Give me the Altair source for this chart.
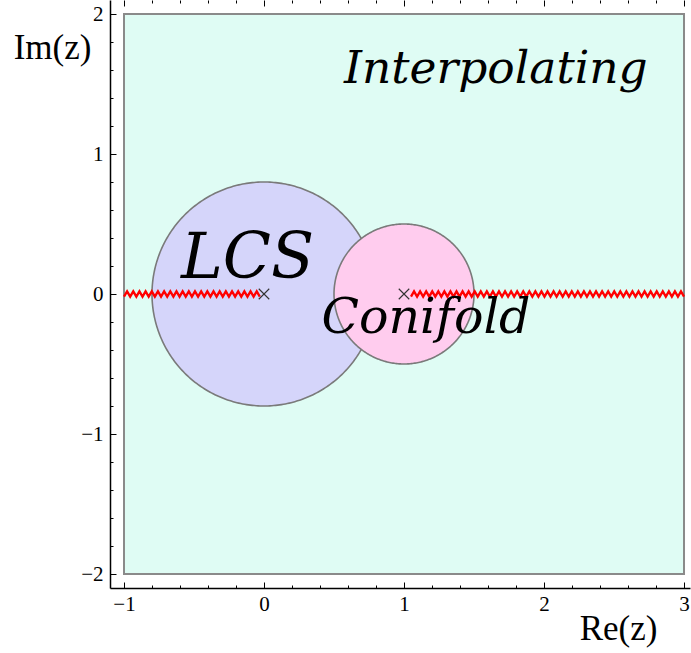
import altair as alt
import numpy as np
import pandas as pd

# ---------------- data ----------------
# plot ranges (data units)
x_domain = [-1.1, 3.0428]
y_domain = [-2.1, 2.1]

# interpolating region (rectangle)
region_x = [-1.0, 3.0]
region_y = [-2.0, 2.0]

# disks: LCS and Conifold
disk_names = ["LCS", "Conifold"]
disk_cx = [0.0, 1.0]
disk_cy = [0.0, 0.0]
disk_r = [0.8, 0.5]

# branch cuts along the real axis
cut_start = [-1.0, 1.05]
cut_end = [-0.03, 3.0]
cut_y = [0.0, 0.0]

# singular points
sing_x = [0.0, 1.0]
sing_y = [0.0, 0.0]

# region labels
label_text = ["Interpolating", "LCS", "Conifold"]
label_x = [1.656, -0.118, 1.157]
label_y = [1.51, 0.114, -0.279]

# tick values
x_ticks = [-1.0, -0.8, -0.6, -0.4, -0.2, 0.0, 0.2, 0.4, 0.6, 0.8, 1.0,
           1.2, 1.4, 1.6, 1.8, 2.0, 2.2, 2.4, 2.6, 2.8, 3.0]
y_ticks = [-2.0, -1.8, -1.6, -1.4, -1.2, -1.0, -0.8, -0.6, -0.4, -0.2, 0.0,
           0.2, 0.4, 0.6, 0.8, 1.0, 1.2, 1.4, 1.6, 1.8, 2.0]

# ---------------- styling ----------------
W, H = 580, 588
MINT = "#DFFCF4"
LAVENDER = "#D5D5FA"
PINK = "#FFCCEE"
OUTLINE = "#7a7a7a"
LABEL_SIZES = [45.5, 63, 49]

xs = alt.Scale(domain=x_domain, nice=False, zero=False)
ys = alt.Scale(domain=y_domain, nice=False, zero=False)

major = "abs(datum.value - round(datum.value)) < 0.001"
tick_dash = {"condition": {"test": major, "value": [6, 0]}, "value": [3, 30]}

axis_x_main = alt.Axis(
    orient="top", offset=-H, values=x_ticks, grid=False,
    domain=True, domainColor="black", domainWidth=1.5,
    ticks=True, tickColor="black", tickWidth=1, tickSize=6, tickDash=tick_dash,
    labelExpr=f"{major} ? format(datum.value, 'd') : ''",
    labelBaseline="top", labelPadding=-11, labelFont="Liberation Serif",
    labelFontSize=21, labelColor="black", labelFlush=False, labelOverlap=False,
    title="Re(z)", titleX=508, titleY=40, titleAngle=0, titleAlign="center",
    titleBaseline="middle", titleFont="Liberation Serif", titleFontSize=35,
    titleFontWeight="normal", titleColor="black", zindex=1,
)
axis_y_main = alt.Axis(
    orient="right", offset=-W, values=y_ticks, grid=False,
    domain=True, domainColor="black", domainWidth=1.5,
    ticks=True, tickColor="black", tickWidth=1, tickSize=6, tickDash=tick_dash,
    labelExpr=f"{major} ? format(datum.value, 'd') : ''",
    labelAlign="right", labelBaseline="middle", labelPadding=-13,
    labelFont="Liberation Serif", labelFontSize=21, labelColor="black",
    labelFlush=False, labelOverlap=False,
    title="Im(z)", titleX=-58, titleY=47, titleAngle=0, titleAlign="center",
    titleBaseline="middle", titleFont="Liberation Serif", titleFontSize=35,
    titleFontWeight="normal", titleColor="black", zindex=1,
)
axis_x_top = alt.Axis(
    orient="bottom", offset=-H, values=x_ticks, grid=False, domain=False,
    labels=False, ticks=True, tickColor="black", tickWidth=1, tickSize=6,
    tickDash=tick_dash, title=None, zindex=1,
)

# ---------------- geometry tables ----------------
rect_df = pd.DataFrame({"x0": [region_x[0]], "x1": [region_x[1]],
                        "y0": [region_y[0]], "y1": [region_y[1]]})


def disk_fill(cx, cy, r):
    t = np.linspace(0, np.pi, 181)
    return pd.DataFrame({"x": cx + r * np.cos(t), "ylo": cy - r * np.sin(t),
                         "yhi": cy + r * np.sin(t)})


def disk_outline(cx, cy, r):
    t = np.linspace(0, 2 * np.pi, 361)
    return pd.DataFrame({"x": cx + r * np.cos(t), "y": cy + r * np.sin(t),
                         "k": np.arange(len(t))})


def zigzag(x0, x1, y0, seg, teeth_per_unit=23, amp=0.019):
    n = max(2, int(round((x1 - x0) * teeth_per_unit)) * 2)
    xx = np.linspace(x0, x1, n + 1)
    sign = np.where(np.arange(n + 1) % 2 == 0, -1.0, 1.0)
    return pd.DataFrame({"x": xx, "y": y0 + amp * sign, "k": np.arange(n + 1),
                         "seg": seg})


cut_df = pd.concat([zigzag(a, b, c, i) for i, (a, b, c)
                    in enumerate(zip(cut_start, cut_end, cut_y))])
sing_df = pd.DataFrame({"x": sing_x, "y": sing_y})

# ---------------- layers ----------------
rect = alt.Chart(rect_df).mark_rect(
    fill=MINT, stroke="#8a8a8a", strokeWidth=2
).encode(
    x=alt.X("x0:Q", scale=xs, axis=axis_x_main), x2="x1:Q",
    y=alt.Y("y0:Q", scale=ys, axis=axis_y_main), y2="y1:Q",
)

layers = [rect]
fills = [LAVENDER, PINK]
for i in range(len(disk_names)):
    fd = disk_fill(disk_cx[i], disk_cy[i], disk_r[i])
    od = disk_outline(disk_cx[i], disk_cy[i], disk_r[i])
    ax_x = axis_x_top if i == 0 else None
    area = alt.Chart(fd).mark_area(color=fills[i], opacity=1).encode(
        x=alt.X("x:Q", scale=xs, axis=ax_x),
        y=alt.Y("ylo:Q", scale=ys, axis=None), y2="yhi:Q",
    )
    line = alt.Chart(od).mark_line(color=OUTLINE, strokeWidth=1.6).encode(
        x=alt.X("x:Q", scale=xs, axis=None),
        y=alt.Y("y:Q", scale=ys, axis=None),
        order="k:Q",
    )
    layers += [area, line]

cuts = alt.Chart(cut_df).mark_line(color="#ff0000", strokeWidth=2.3).encode(
    x=alt.X("x:Q", scale=xs, axis=None),
    y=alt.Y("y:Q", scale=ys, axis=None),
    detail="seg:N", order="k:Q",
)
layers.append(cuts)

crosses = alt.Chart(sing_df).mark_point(
    shape="M-1,-1L1,1M-1,1L1,-1", size=110, color="#333333",
    strokeWidth=1.1, filled=False, opacity=1,
).encode(
    x=alt.X("x:Q", scale=xs, axis=None),
    y=alt.Y("y:Q", scale=ys, axis=None),
)
layers.append(crosses)

for i, txt in enumerate(label_text):
    tdf = pd.DataFrame({"x": [label_x[i]], "y": [label_y[i]], "t": [txt]})
    layers.append(
        alt.Chart(tdf).mark_text(
            font="DejaVu Serif", fontStyle="italic", fontSize=LABEL_SIZES[i],
            align="center", baseline="alphabetic", color="black",
        ).encode(
            x=alt.X("x:Q", scale=xs, axis=None),
            y=alt.Y("y:Q", scale=ys, axis=None),
            text="t:N",
        )
    )

chart = alt.layer(*layers).resolve_axis(
    x="independent", y="independent"
).properties(
    width=W, height=H,
    autosize=alt.AutoSizeParams(type="none"),
    padding={"left": 110, "top": 0, "right": 1, "bottom": 65},
    background="white",
).configure_view(stroke=None)

chart.save("out.html", embed_options={"renderer": "svg", "actions": False})
